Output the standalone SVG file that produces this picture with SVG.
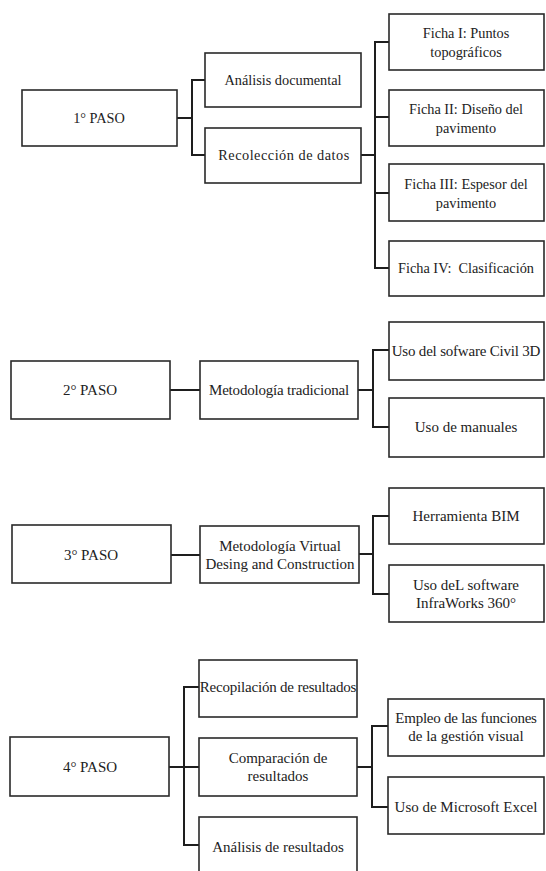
<svg xmlns="http://www.w3.org/2000/svg" width="546" height="871" viewBox="0 0 546 871">
<style>
.box{fill:#fff;stroke:#2a2a2a;stroke-width:1.6}
.t{font-family:'Liberation Serif','DejaVu Serif','Times New Roman',serif;font-size:15px;fill:#222;text-anchor:middle;dominant-baseline:central}
.s1{font-size:14.3px}
.c{fill:none;stroke:#1e1e1e;stroke-width:2}
</style>
<rect width="546" height="871" fill="#fff"/>
<g id="connectors">
<path class="c" d="M177 118H192" stroke-width="4"/>
<path class="c" d="M205 80H192V155H205"/>
<path class="c" d="M361 155H375"/>
<path class="c" d="M389 42H375V268H389M375 117H389M375 193H389"/>
<path class="c" d="M170 390H200"/>
<path class="c" d="M358 390H373"/>
<path class="c" d="M389 350H373V427H389"/>
<path class="c" d="M171 555H200"/>
<path class="c" d="M359 554H373"/>
<path class="c" d="M389 516H373V594H389"/>
<path class="c" d="M169 767H199"/>
<path class="c" d="M199 687H184V845H199"/>
<path class="c" d="M357 767H372"/>
<path class="c" d="M388 726H372V807H388"/>
</g>
<g font-family="Liberation Serif, DejaVu Serif, serif">
<g id="paso1"><rect class="box" x="22" y="90" width="155" height="56"/><text class="t s1" x="99" y="118">1° PASO</text></g>
<g id="analisis-documental"><rect class="box" x="205" y="53" width="156" height="54"/><text class="t s1" x="283" y="80">Análisis documental</text></g>
<g id="recoleccion"><rect class="box" x="205" y="128" width="156" height="55"/><text class="t s1" x="284" y="155" letter-spacing="0.5">Recolección de datos</text></g>
<g id="ficha1"><rect class="box" x="389" y="14" width="155" height="56"/><text class="t s1" x="466" y="33">Ficha I: Puntos</text><text class="t s1" x="466" y="52">topográficos</text></g>
<g id="ficha2"><rect class="box" x="389" y="90" width="155" height="56"/><text class="t s1" x="466" y="109">Ficha II: Diseño del</text><text class="t s1" x="466" y="128">pavimento</text></g>
<g id="ficha3"><rect class="box" x="389" y="164" width="155" height="57"/><text class="t s1" x="466" y="184">Ficha III: Espesor del</text><text class="t s1" x="466" y="203">pavimento</text></g>
<g id="ficha4"><rect class="box" x="389" y="241" width="155" height="55"/><text class="t s1" x="466" y="268" xml:space="preserve">Ficha IV:  Clasificación</text></g>
<g id="paso2"><rect class="box" x="11" y="361" width="159" height="58"/><text class="t" x="90" y="390">2° PASO</text></g>
<g id="metodologia-tradicional"><rect class="box" x="200" y="361" width="158" height="58"/><text class="t" x="279" y="390" letter-spacing="-0.2">Metodología tradicional</text></g>
<g id="civil3d"><rect class="box" x="389" y="322" width="155" height="58"/><text class="t" x="466" y="351" letter-spacing="-0.2">Uso del sofware Civil 3D</text></g>
<g id="manuales"><rect class="box" x="389" y="398" width="155" height="59"/><text class="t" x="466" y="427">Uso de manuales</text></g>
<g id="paso3"><rect class="box" x="12" y="525" width="159" height="58"/><text class="t" x="91" y="555">3° PASO</text></g>
<g id="metodologia-vdc"><rect class="box" x="200" y="526" width="159" height="57"/><text class="t" x="280" y="546">Metodología Virtual</text><text class="t" x="280" y="564">Desing and Construction</text></g>
<g id="bim"><rect class="box" x="389" y="488" width="155" height="56"/><text class="t" x="466" y="516">Herramienta BIM</text></g>
<g id="infraworks"><rect class="box" x="389" y="565" width="155" height="57"/><text class="t" x="466" y="585">Uso deL software</text><text class="t" x="466" y="603">InfraWorks 360°</text></g>
<g id="paso4"><rect class="box" x="10" y="737" width="159" height="59"/><text class="t" x="90" y="767">4° PASO</text></g>
<g id="recopilacion"><rect class="box" x="199" y="660" width="158" height="57"/><text class="t" x="278" y="687" letter-spacing="-0.2">Recopilación de resultados</text></g>
<g id="comparacion"><rect class="box" x="199" y="738" width="158" height="58"/><text class="t" x="278" y="758">Comparación de</text><text class="t" x="278" y="776">resultados</text></g>
<g id="analisis-resultados"><rect class="box" x="199" y="817" width="158" height="70"/><text class="t" x="278" y="847">Análisis de resultados</text></g>
<g id="gestion-visual"><rect class="box" x="388" y="699" width="156" height="57"/><text class="t" x="466" y="718" letter-spacing="-0.25">Empleo de las funciones</text><text class="t" x="466" y="736">de la gestión visual</text></g>
<g id="excel"><rect class="box" x="388" y="777" width="156" height="57"/><text class="t" x="466" y="807">Uso de Microsoft Excel</text></g>
</g>
</svg>
